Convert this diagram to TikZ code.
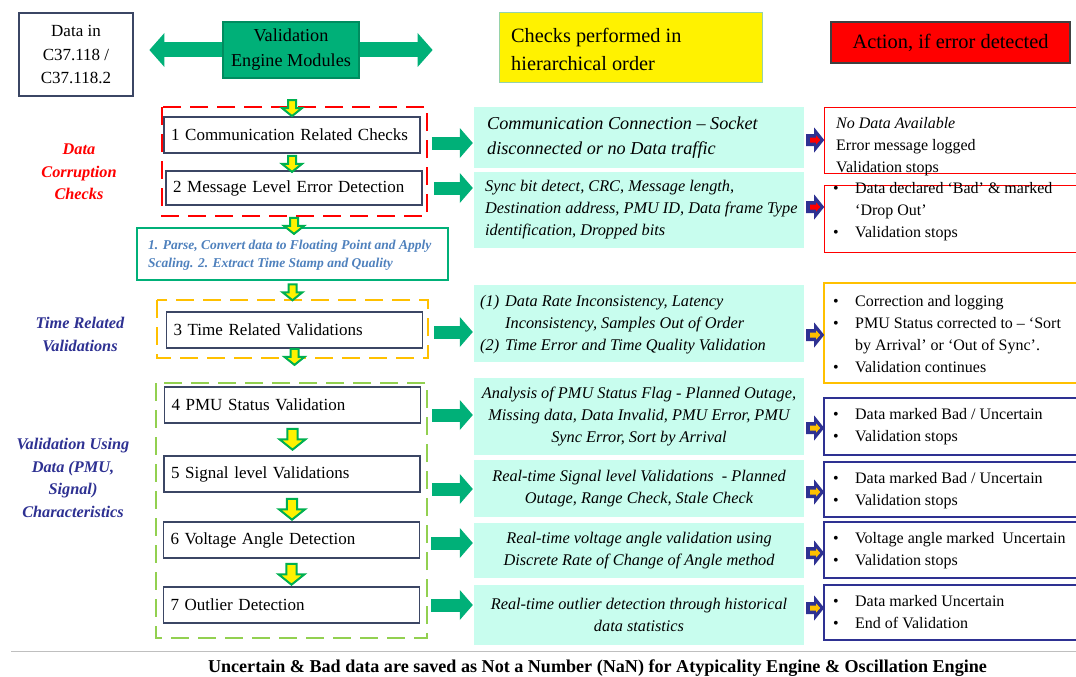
\documentclass[tikz,border=0pt]{standalone}
\usepackage{fontspec}
\setmainfont{Liberation Serif}
\usetikzlibrary{arrows.meta,backgrounds}
\definecolor{vgreen}{RGB}{0,176,120}
\definecolor{vgreendark}{RGB}{0,140,95}
\definecolor{mint}{RGB}{200,253,238}
\definecolor{slate}{RGB}{59,70,100}
\definecolor{navyblue}{RGB}{46,49,146}
\definecolor{goldy}{RGB}{255,192,0}
\definecolor{lgreen}{RGB}{146,208,80}
\definecolor{parseblue}{RGB}{79,129,189}
\definecolor{arrgreen}{RGB}{0,176,80}
\definecolor{ybord}{RGB}{150,210,170}
\newcommand{\fs}[2]{\fontsize{#1}{#2}\selectfont}
\newcommand{\blt}{\makebox[22pt][l]{\textbullet}}
\newcommand{\bltgap}{\hspace*{22pt}}
\tikzset{
  modbox/.style={draw=slate, line width=1.8pt, fill=white, minimum width=256pt, minimum height=36pt,
    text width=242pt, inner xsep=7pt, align=left, font=\fs{17}{20}},
  checkbox/.style={fill=mint, minimum width=330pt, inner sep=0pt, align=center, font=\fs{16.3}{22}\itshape},
  actbox/.style={draw=#1, line width=1.2pt, fill=white, minimum width=256pt, inner sep=0pt},
  checktext/.style={font=\fs{16.3}{22}\itshape, align=left, inner sep=0pt, anchor=west},
  acttext/.style={font=\fs{16}{22}, align=left, inner sep=0pt, anchor=west},
  grnarrow/.style={draw=vgreen, line width=13pt, -{Triangle[length=13pt,width=30pt,line width=0pt]},
    shorten <=11pt, shorten >=1pt},
  sidelabel/.style={font=\fs{16.3}{22.5}\bfseries\itshape, align=center},
  groupdash/.style={draw=#1, line width=2.6pt, dash pattern=on 18pt off 9pt},
  dnarrow/.pic={\draw[arrgreen, line width=2pt, fill=yellow, line join=miter]
    (-4,0) -- (4,0) -- (4,8) -- (10,8) -- (0,16) -- (-10,8) -- (-4,8) -- cycle;},
  actarrow/.pic={\fill[navyblue] (0,-6) -- (8,-6) -- (8,-12.5) -- (18,0) -- (8,12.5) -- (8,6) -- (0,6) -- cycle;
    \fill[#1] (4,-2.5) -- (10,-2.5) -- (10,-4.5) -- (14,0) -- (10,4.5) -- (10,2.5) -- (4,2.5) -- cycle;}
}
\begin{document}
\begin{tikzpicture}[x=1pt,y=-1pt]
        \useasboundingbox (0,0) rectangle (1076,677);
        \node[draw=slate, line width=2pt, minimum width=114pt, minimum height=83pt, align=center, font=\fs{17}{23.5}] (din) at (76,54.5) {Data in\\C37.118 /\\C37.118.2};
        \node[fill=vgreen, draw=vgreendark, line width=1.2pt, minimum width=136pt, minimum height=56pt, align=center, font=\fs{18.2}{25}] (vem) at (291,50) {Validation\\Engine Modules};
        \begin{scope}[on background layer]
        \draw[draw=vgreen, line width=15pt, {Triangle[length=15pt,width=34pt,line width=0pt]}-{Triangle[length=15pt,width=34pt,line width=0pt]}] ([xshift=-73pt]vem.west) -- ([xshift=73pt]vem.east);
        \end{scope}
        \node[fill=yellow, draw=ybord, line width=1pt, minimum width=263pt, minimum height=69pt] (hier) at (630.5,47.5) {};
        \node[font=\fs{20.3}{28}, align=left, anchor=west, inner sep=0pt] (hiert) at (511,49) {Checks performed in\\hierarchical order};
        \node[fill=red, draw=black!75, line width=1.5pt, minimum width=239pt, minimum height=41pt, font=\fs{20.4}{24}] (act) at (950.5,42.5) {Action, if error detected};

        \node[sidelabel, text=red] (dcc) at (79,172) {Data\\Corruption\\Checks};
        \node[sidelabel, text=navyblue] (trv) at (80,334.5) {Time Related\\Validations};
        \node[sidelabel, text=navyblue] (vud) at (73,478) {Validation Using\\Data (PMU,\\Signal)\\Characteristics};

        \draw[groupdash=red] (162,107) rectangle (427,216);
        \draw[groupdash=goldy] (157,300) rectangle (428,358);
        \draw[groupdash=lgreen] (156,383) rectangle (427,638);

        \node[modbox] (b1) at (292,135) {1 Communication Related Checks};
        \node[modbox, minimum height=34pt] (b2) at (294,188) {2 Message Level Error Detection};
        \node[draw=vgreen, line width=2.5pt, fill=white, minimum width=311pt, minimum height=52pt] (pb) at (292.5,254) {};
        \node[font=\fs{13.5}{18}\bfseries\itshape, text=parseblue, align=left, anchor=west, inner sep=0pt] (pbt) at (148,255) {1. Parse, Convert data to Floating Point and Apply\\Scaling. 2. Extract Time Stamp and Quality};
        \node[modbox] (b3) at (294.5,330) {3 Time Related Validations};
        \node[modbox] (b4) at (292.5,405) {4 PMU Status Validation};
        \node[modbox] (b5) at (292,474) {5 Signal level Validations};
        \node[modbox] (b6) at (291.5,540) {6 Voltage Angle Detection};
        \node[modbox] (b7) at (291.5,605) {7 Outlier Detection};

        \pic at ([yshift=16pt]b1.north) {dnarrow};
        \pic at ([yshift=-2pt]b1.south) {dnarrow};
        \pic at ([yshift=-12pt]b2.south) {dnarrow};
        \pic at ([yshift=-3pt]pb.south) {dnarrow};
        \pic at (b3.south) {dnarrow};
        \pic[scale=1.3] at ([yshift=-5pt]b4.south) {dnarrow};
        \pic[scale=1.3] at ([yshift=-6pt]b5.south) {dnarrow};
        \pic[scale=1.3] at ([yshift=-5pt]b6.south) {dnarrow};

        \node[checkbox, minimum height=61pt] (m1) at (639,137.5) {};
        \node[checkbox, minimum height=76pt] (m2) at (639,210) {};
        \node[checkbox, minimum height=77pt] (m3) at (639,323.5) {};
        \node[checkbox, minimum height=77pt] (m4) at (639,416.5) {Analysis of PMU Status Flag - Planned Outage,\\Missing data, Data Invalid, PMU Error, PMU\\Sync Error, Sort by Arrival};
        \node[checkbox, minimum height=57pt] (m5) at (639,488.5) {Real-time Signal level Validations~ - Planned\\Outage, Range Check, Stale Check};
        \node[checkbox, minimum height=55pt] (m6) at (639,550.5) {Real-time voltage angle validation using\\Discrete Rate of Change of Angle method};
        \node[checkbox, minimum height=60pt] (m7) at (639,615) {Real-time outlier detection through historical\\data statistics};
        \node[checktext, font=\fs{18.2}{25}\itshape] (m1t) at (487,137.5) {Communication Connection – Socket\\disconnected or no Data traffic};
        \node[checktext] (m2t) at (485,210) {Sync bit detect, CRC, Message length,\\Destination address, PMU ID, Data frame Type\\identification, Dropped bits};
        \node[checktext] (m3t) at (480,325) {\makebox[25pt][l]{(1)}Data Rate Inconsistency, Latency\\\makebox[25pt][l]{}Inconsistency, Samples Out of Order\\\makebox[25pt][l]{(2)}Time Error and Time Quality Validation};

        \draw[grnarrow] ([yshift=-8pt]b1.east) -- ([yshift=-8pt]b1.east -| m1.west);
        \draw[grnarrow] (b2.east) -- (b2.east -| m2.west);
        \draw[grnarrow] ([yshift=-2pt]b3.east) -- ([yshift=-2pt]b3.east -| m3.west);
        \draw[grnarrow] ([yshift=-10pt]b4.east) -- ([yshift=-10pt]b4.east -| m4.west);
        \draw[grnarrow] ([yshift=-15pt]b5.east) -- ([yshift=-15pt]b5.east -| m5.west);
        \draw[grnarrow] ([yshift=-3pt]b6.east) -- ([yshift=-3pt]b6.east -| m6.west);
        \draw[grnarrow] (b7.east) -- (b7.east -| m7.west);

        \node[actbox=red, line width=1pt, minimum height=66pt] (r1) at (952,140) {};
        \node[actbox=red, line width=1pt, minimum height=67pt] (r2) at (952,218.5) {};
        \node[actbox=goldy, minimum height=100pt] (r3) at (952,333) {};
        \node[actbox=navyblue, minimum height=57pt] (r4) at (952,426.5) {};
        \node[actbox=navyblue, minimum height=55pt] (r5) at (952,489.5) {};
        \node[actbox=navyblue, minimum height=56pt] (r6) at (952,550) {};
        \node[actbox=navyblue, minimum height=55pt] (r7) at (952,612.5) {};
        \node[acttext] (r1t) at (836,147) {\textit{No Data Available}\\Error message logged\\Validation stops};
        \node[acttext] (r2t) at (833,211.5) {\blt Data declared ‘Bad’ \& marked\\\bltgap‘Drop Out’\\\blt Validation stops};
        \node[acttext] (r3t) at (833,334) {\blt Correction and logging\\\blt PMU Status corrected to – ‘Sort\\\bltgap by Arrival’ or ‘Out of Sync’.\\\blt Validation continues};
        \node[acttext] (r4t) at (833,426.5) {\blt Data marked Bad / Uncertain\\\blt Validation stops};
        \node[acttext] (r5t) at (833,491) {\blt Data marked Bad / Uncertain\\\blt Validation stops};
        \node[acttext] (r6t) at (833,551) {\blt Voltage angle marked~ Uncertain\\\blt Validation stops};
        \node[acttext] (r7t) at (833,612.5) {\blt Data marked Uncertain\\\blt End of Validation};

        \pic at ([xshift=2pt,yshift=-2.5pt]m1.east) {actarrow=red};
        \pic at ([xshift=2pt,yshift=3pt]m2.east) {actarrow=red};
        \pic at ([xshift=2pt,yshift=-11.5pt]m3.east) {actarrow=goldy};
        \pic at ([xshift=2pt,yshift=-11.5pt]m4.east) {actarrow=goldy};
        \pic at ([xshift=2pt,yshift=-3.5pt]m5.east) {actarrow=goldy};
        \pic at ([xshift=2pt,yshift=-2.5pt]m6.east) {actarrow=goldy};
        \pic at ([xshift=2pt,yshift=7pt]m7.east) {actarrow=goldy};

        \draw[black!25, line width=1pt] (11,651) -- (1076,651);
        \node[font=\fs{18.1}{22}\bfseries] (note) at (597.5,668) {Uncertain \& Bad data are saved as Not a Number (NaN) for Atypicality Engine \& Oscillation Engine};
\end{tikzpicture}
\end{document}
